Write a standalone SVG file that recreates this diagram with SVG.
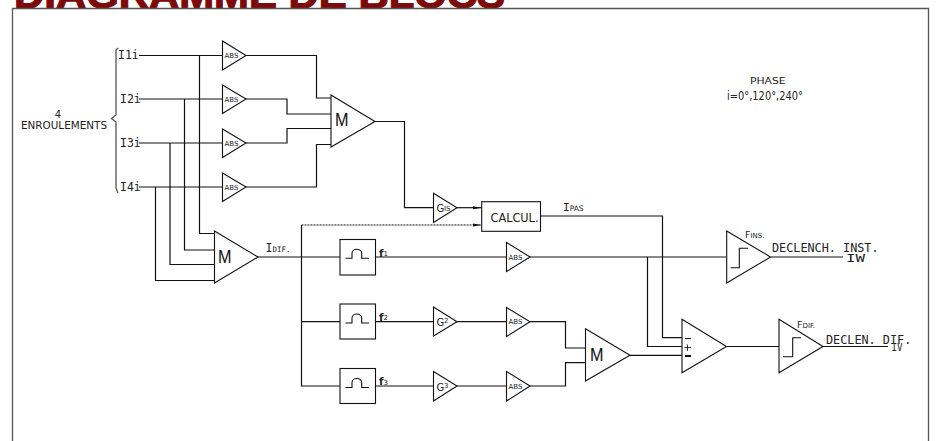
<svg xmlns="http://www.w3.org/2000/svg" width="936" height="441" viewBox="0 0 936 441">
<style>
.s{fill:none;stroke:#111;stroke-width:1.1}
.c{fill:none;stroke:#111;stroke-width:1.2}
.t{fill:#fff;stroke:#111;stroke-width:1.1}
text{font-family:"DejaVu Sans",sans-serif;fill:#222}
.m{font-family:"DejaVu Sans Mono",monospace}
.abs{font-size:7px}
.M{font-size:18px;fill:#111;font-family:"Liberation Sans",sans-serif}
.lab{font-size:11.5px}
.sub{font-size:7px}
</style>
<defs>
<marker id="a" markerWidth="9" markerHeight="6" refX="9" refY="3" orient="auto" markerUnits="userSpaceOnUse"><path d="M0 1.500L9 3L0 4.500z" fill="#111"/></marker>
</defs>
<rect width="936" height="441" fill="#fff"/>
<text id="title" x="14" y="8" font-size="39" font-weight="700" textLength="491" lengthAdjust="spacingAndGlyphs" stroke="#7d0a0a" stroke-width="1.2" style="font-family:'Liberation Sans',sans-serif;fill:#7d0a0a">DIAGRAMME DE BLOCS</text>
<path id="frame" d="M12.500 441V8.500H928.500V441" fill="none" stroke="#555" stroke-width="1.3"/>
<g id="connectors" class="c">
<path d="M139 55.500H222.500M246 55.500H316.500V98H331"/>
<path d="M139 99H222.500M246 99H287V114H331"/>
<path d="M139 143H222.500M246 143H287V128.500H331"/>
<path d="M139 187H222.500M246 187H316.500V144.500H331"/>
<path d="M199.500 55.500V233.500H214.500M184.500 99V250H214.500M170 143V264.500H214.500M155.500 187V280.500H214.500"/>
<path d="M375 121.500H404.500V207.700H433.500"/>
<path d="M457 207.700H481.700" marker-end="url(#a)"/>
<path d="M301.500 225H481.700" stroke-dasharray="2 1" marker-end="url(#a)"/>
<path d="M258 257H340M375.500 257H506.500M530 257H726.700M770.500 257H843"/>
<path d="M301.500 225V386H340M301.500 321.700H340M375.500 321.700H433.500M457 321.700H506.500M375.500 386H433.500M457 386H506.500"/>
<path d="M530 321.700H565.500V348H585.500M530 386H565.500V362.700H585.500M630 355.300H682"/>
<path d="M540.500 216H662.500V337.700H682M647.500 257V346.500H682M726.500 346.500H779M823 346.500H888"/>
</g>
<g id="in1"><text class="m lab" x="118" y="59">I1i</text></g>
<g id="in2"><text class="m lab" x="120" y="103">I2i</text></g>
<g id="in3"><text class="m lab" x="120" y="147">I3i</text></g>
<g id="in4"><text class="m lab" x="120" y="191">I4i</text></g>
<g id="enroulements">
<path d="M118 48L116 50V115L111.500 118.500L116 122V188L118 193" fill="none" stroke="#555" stroke-width="1.300"/>
<text x="58" y="117.500" font-size="10" text-anchor="middle">4</text>
<text x="21" y="128.500" font-size="10.500" textLength="86" lengthAdjust="spacingAndGlyphs">ENROULEMENTS</text>
</g>
<g id="abs1"><path class="t" d="M222.500 41L246 55.500L222.500 70z"/><text class="abs" x="224.500" y="58">ABS</text></g>
<g id="abs2"><path class="t" d="M222.500 85L246 99L222.500 113.500z"/><text class="abs" x="224.500" y="101.500">ABS</text></g>
<g id="abs3"><path class="t" d="M222.500 129L246 143L222.500 157.500z"/><text class="abs" x="224.500" y="145.500">ABS</text></g>
<g id="abs4"><path class="t" d="M222.500 173L246 187L222.500 201.500z"/><text class="abs" x="224.500" y="189.500">ABS</text></g>
<g id="m1"><path class="t" d="M331 95L375 121.500L331 147z"/><text class="M" x="335" y="126" textLength="13.500" lengthAdjust="spacingAndGlyphs">M</text></g>
<g id="m2"><path class="t" d="M214.500 231L258 257L214.500 283z"/><text class="M" x="218" y="262.500" textLength="13.500" lengthAdjust="spacingAndGlyphs">M</text></g>
<g id="m3"><path class="t" d="M585.500 328.700L630 355.300L585.500 381z"/><text class="M" x="590" y="360.500" textLength="13.500" lengthAdjust="spacingAndGlyphs">M</text></g>
<g id="gis"><path class="t" d="M433.500 193.300L457 207.700L433.500 222.500z"/><text x="436.500" y="212" font-size="10">G</text><text class="sub" x="444" y="211">IS</text></g>
<g id="calcul"><rect class="t" x="481.700" y="201.700" width="58.800" height="29.600"/><text x="490.500" y="221.500" font-size="12" textLength="48" lengthAdjust="spacingAndGlyphs">CALCUL.</text></g>
<text id="ipas" x="563" y="211"><tspan class="m" font-size="11">I</tspan><tspan font-size="7.500">PAS</tspan></text>
<text id="idif" x="265.500" y="252"><tspan class="m" font-size="11.500">I</tspan><tspan class="m" font-size="7.500">DIF.</tspan></text>
<g id="f1"><rect class="t" x="340" y="239.500" width="35.500" height="35.500"/><path class="s" d="M345.500 258.300H352V253.300A4.800 4 0 0 1 361.700 253.300V258.300H369"/><text x="379" y="256.500" font-size="10.500" font-weight="700">f</text><text class="sub" x="383.500" y="256" font-size="5.500">1</text></g>
<g id="f2"><rect class="t" x="340" y="304" width="35.500" height="35"/><path class="s" d="M345.500 323H352V318A4.800 4 0 0 1 361.700 318V323H369"/><text x="379" y="320.500" font-size="10.500" font-weight="700">f</text><text class="sub" x="383.500" y="320" font-size="5.500">2</text></g>
<g id="f3"><rect class="t" x="340" y="368.500" width="35.500" height="35"/><path class="s" d="M345.500 387.500H352V382.500A4.800 4 0 0 1 361.700 382.500V387.500H369"/><text x="379" y="385" font-size="10.500" font-weight="700">f</text><text class="sub" x="383.500" y="384.500" font-size="5.500">3</text></g>
<g id="g2"><path class="t" d="M433.500 307L457 321.700L433.500 336z"/><text x="436.500" y="326" font-size="10">G</text><text class="sub" x="444" y="323">2</text></g>
<g id="g3"><path class="t" d="M433.500 371.500L457 386L433.500 401z"/><text x="436.500" y="390.500" font-size="10">G</text><text class="sub" x="444" y="387.500">3</text></g>
<g id="abs5"><path class="t" d="M506.500 242.500L530 257L506.500 271.500z"/><text class="abs" x="508.500" y="259.500">ABS</text></g>
<g id="abs6"><path class="t" d="M506.500 307.500L530 321.700L506.500 336.500z"/><text class="abs" x="508.500" y="324">ABS</text></g>
<g id="abs7"><path class="t" d="M506.500 371.500L530 386L506.500 401z"/><text class="abs" x="508.500" y="388.500">ABS</text></g>
<g id="fins"><path class="t" d="M726.700 231L770.500 257L726.700 283z"/><path class="s" d="M730.700 267.700H739.300V248.300H748"/><text x="745" y="238" font-size="9.500">F</text><text class="sub" x="750.500" y="238" font-size="5.500">INS.</text></g>
<g id="cmp"><path class="t" d="M682 319.300L726.500 346.500L682 372.700z"/><path d="M685 338.500H691" stroke="#111" stroke-width="1"/><path d="M685 356H691" stroke="#111" stroke-width="2"/><path d="M687.500 344.500V351M684.500 347.500H691" stroke="#333" stroke-width="1"/></g>
<g id="fdif"><path class="t" d="M779 319.300L823 346.500L779 372.700z"/><path class="s" d="M783 356.700H792.700V337.700H801"/><text x="797" y="328" font-size="9.500">F</text><text class="sub" x="802.500" y="328" font-size="5.500">DIF.</text></g>
<g id="out1"><text class="m" x="772" y="251.500" font-size="11.800">DECLENCH. INST.</text><text class="m" x="846" y="261.500" font-size="11" textLength="19" lengthAdjust="spacingAndGlyphs">IW</text></g>
<g id="out2"><text class="m" x="826" y="344" font-size="11.800">DECLEN. DIF.</text><text class="m" x="891.500" y="350.500" font-size="11" textLength="11" lengthAdjust="spacingAndGlyphs">IV</text></g>
<g id="phase"><text x="750" y="83.500" font-size="9.500" textLength="35.500" lengthAdjust="spacingAndGlyphs">PHASE</text><text x="727" y="100" font-size="11.500" textLength="76" lengthAdjust="spacingAndGlyphs">i=0°,120°,240°</text></g>
</svg>
